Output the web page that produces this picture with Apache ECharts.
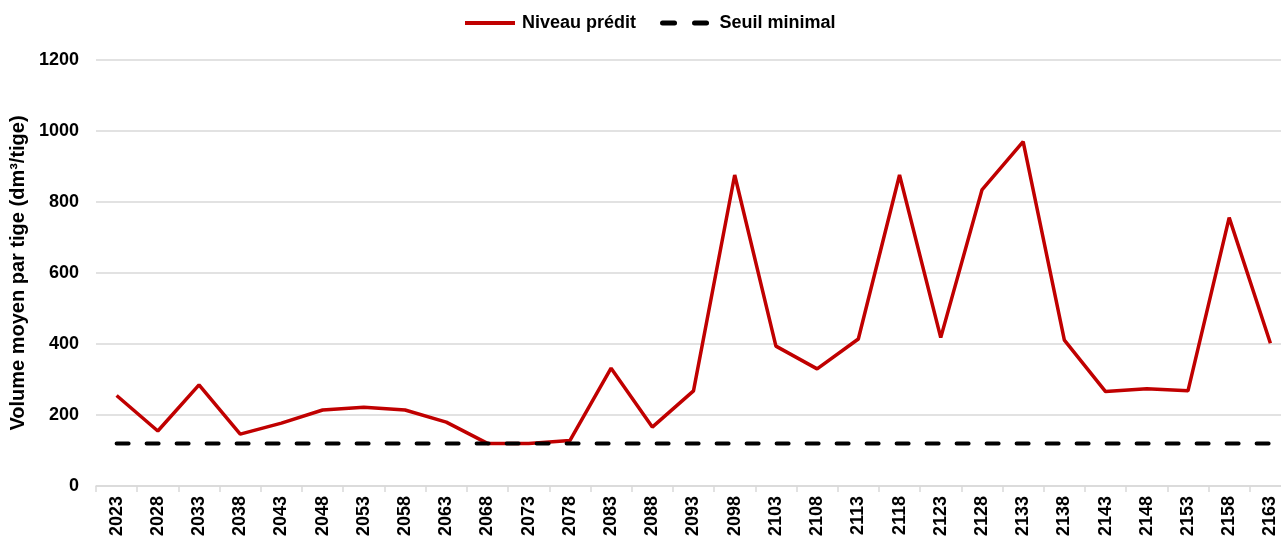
<!DOCTYPE html>
<html>
<head>
<meta charset="utf-8">
<script src="https://cdn.jsdelivr.net/npm/echarts@6/dist/echarts.min.js"></script>
<style>
html,body{margin:0;padding:0;background:#fff;}
#chart{width:1281px;height:539px;}
</style>
</head>
<body>
<div id="chart"></div>
<script>
var years=['2023','2028','2033','2038','2043','2048','2053','2058','2063','2068','2073','2078','2083','2088','2093','2098','2103','2108','2113','2118','2123','2128','2133','2138','2143','2148','2153','2158','2163'];
var niveau=[255,155,285,146,177,214,222,214,180,120,120,128,332,166,268,876,394,330,414,876,418,834,970,411,266,274,268,756,402];
var seuil=[120,120,120,120,120,120,120,120,120,120,120,120,120,120,120,120,120,120,120,120,120,120,120,120,120,120,120,120,120];
var yTicks=[0,200,400,600,800,1000,1200];

var chart=echarts.init(document.getElementById('chart'));
var font='"Liberation Sans", Arial, sans-serif';
option={
    animation:false,
    legend:{
        top:9,
        left:458,
        itemWidth:50,
        itemHeight:14,
        itemGap:24,
        textStyle:{fontFamily:font,fontWeight:'bold',fontSize:18,color:'#000',padding:[0,0,0,2]},
        itemStyle:{opacity:0},
        data:[
            {name:'Niveau prédit',lineStyle:{width:4,color:'#c00000'}},
            {name:'Seuil minimal',lineStyle:{width:5,color:'#000',type:[12,20],cap:'round'}}
        ]
    },
    grid:{left:96,top:60,width:1195,bottom:53,containLabel:false,outerBoundsMode:'none'},
    xAxis:{
        type:'category',
        data:years,
        boundaryGap:true,
        axisLine:{lineStyle:{color:'#d9d9d9',width:1.5}},
        axisTick:{show:true,length:6,lineStyle:{color:'#d9d9d9',width:1.5}},
        axisLabel:{rotate:90,interval:0,margin:10,fontFamily:font,fontWeight:'bold',fontSize:18,color:'#000'}
    },
    yAxis:{
        type:'value',
        min:yTicks[0],
        max:yTicks[yTicks.length-1],
        interval:200,
        name:'Volume moyen par tige (dm³/tige)',
        nameLocation:'middle',
        nameGap:64,
        nameTextStyle:{fontFamily:font,fontWeight:'bold',fontSize:20,color:'#000'},
        axisLine:{show:false},
        axisTick:{show:false},
        axisLabel:{margin:17,fontFamily:font,fontWeight:'bold',fontSize:18,color:'#000',formatter:function(v){return String(v);}},
        splitLine:{lineStyle:{color:'#d9d9d9',width:1.5}}
    },
    series:[
        {
            name:'Niveau prédit',
            type:'line',
            data:niveau,
            showSymbol:false,
            symbol:'none',
            lineStyle:{color:'#c00000',width:3.5},
            itemStyle:{color:'#c00000'},
            z:2
        },
        {
            name:'Seuil minimal',
            type:'line',
            data:seuil,
            showSymbol:false,
            symbol:'none',
            lineStyle:{color:'#000',width:4,type:[12,18],cap:'round'},
            itemStyle:{color:'#000'},
            z:3
        }
    ]
};
chart.setOption(option);
window.onresize=function(){chart.resize();};
</script>
</body>
</html>
